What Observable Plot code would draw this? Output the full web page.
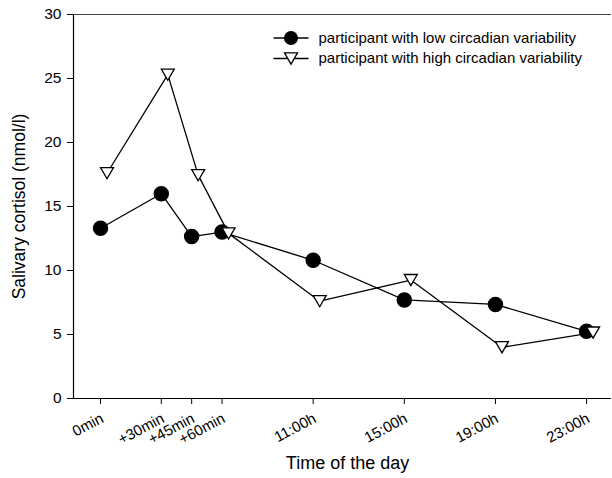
<!DOCTYPE html>
<html>
<head>
<meta charset="utf-8">
<script src="https://cdn.jsdelivr.net/npm/d3@7"></script>
<script src="https://cdn.jsdelivr.net/npm/@observablehq/plot@0.6"></script>
<style>
  html, body { margin: 0; padding: 0; background: #fff; }
  #chart { width: 612px; height: 478px; }
</style>
</head>
<body>
<div id="chart"></div>
<script>
// Sampling times (label) and their position along the x axis (in axis units)
const timeLabels = ["0min", "+30min", "+45min", "+60min", "11:00h", "15:00h", "19:00h", "23:00h"];
const timePos = [0, 2, 3, 4, 7, 10, 13, 16];

// Salivary cortisol (nmol/l)
const lowVariability = [13.3, 16.0, 12.65, 13.0, 10.8, 7.7, 7.35, 5.25];
const highVariability = [17.6, 25.3, 17.45, 12.9, 7.6, 9.25, 4.0, 5.15];

const seriesNames = ["participant with low circadian variability", "participant with high circadian variability"];
const yTicks = [0, 5, 10, 15, 20, 25, 30];

const low = timePos.map((x, i) => ({x, y: lowVariability[i]}));
const high = timePos.map((x, i) => ({x, y: highVariability[i]}));
const xTickTable = timePos.map((x, i) => ({x, label: timeLabels[i]}));

const xDomain = [-0.89, 16.82];

// custom symbols
const triDown = {draw(ctx) { ctx.moveTo(-6.5, -5.6); ctx.lineTo(6.5, -5.6); ctx.lineTo(0, 5.6); ctx.closePath(); }};
const legendLine = {draw(ctx) { ctx.moveTo(-17.5, 0); ctx.lineTo(17.5, 0); }};

const font = "Liberation Sans, Arial, Helvetica, sans-serif";

const chart = Plot.plot({
  width: 612,
  height: 478,
  marginLeft: 73,
  marginRight: 1,
  marginTop: 14,
  marginBottom: 80,
  style: {fontFamily: font, background: "#fff", color: "#000"},
  x: {domain: xDomain, axis: null},
  y: {domain: [0, 30], axis: null},
  marks: [
    // axes lines
    Plot.ruleY([30], {stroke: "#444", strokeWidth: 1}),
    Plot.ruleY([0], {stroke: "#000", strokeWidth: 1.2}),
    Plot.ruleX([xDomain[0]], {stroke: "#000", strokeWidth: 1.2}),
    Plot.axisY({
      ticks: yTicks, tickSize: 6, tickPadding: 6, label: null,
      fontSize: 15.5, stroke: "#000", strokeWidth: 1
    }),
    Plot.axisX({
      ticks: timePos, tickSize: 6, text: null, label: null,
      stroke: "#000", strokeWidth: 1
    }),
    Plot.text(xTickTable, {
      x: "x", text: "label", frameAnchor: "bottom", rotate: -28, textAnchor: "end",
      dx: 4, dy: 23, fontSize: 15, fill: "#000"
    }),
    // axis titles
    Plot.text(["Salivary cortisol (nmol/l)"], {
      frameAnchor: "left", rotate: -90, dx: -54, textAnchor: "middle", text: (d) => d, fontSize: 17.5, fill: "#000"
    }),
    Plot.text(["Time of the day"], {
      frameAnchor: "bottom", dx: 5, dy: 70, text: (d) => d, fontSize: 18, fill: "#000"
    }),
    // series
    Plot.line(low, {x: "x", y: "y", stroke: "#000", strokeWidth: 1.3}),
    Plot.line(high, {x: "x", y: "y", stroke: "#000", strokeWidth: 1.3, dx: 6.5}),
    Plot.dot(low, {x: "x", y: "y", r: 7, fill: "#000", stroke: "#000"}),
    Plot.dot(high, {x: "x", y: "y", symbol: triDown, r: 5, fill: "#fff", stroke: "#000", strokeWidth: 1.3, dx: 6.5}),
    // legend
    Plot.dot([seriesNames[0]], {frameAnchor: "top-left", dx: 217.5, dy: 23.5, symbol: legendLine, stroke: "#000", strokeWidth: 1.3}),
    Plot.dot([seriesNames[0]], {frameAnchor: "top-left", dx: 217.5, dy: 23.5, r: 7, fill: "#000"}),
    Plot.text([seriesNames[0]], {frameAnchor: "top-left", dx: 245, dy: 23.5, text: (d) => d, textAnchor: "start", lineAnchor: "middle", fontSize: 15, fill: "#000"}),
    Plot.dot([seriesNames[1]], {frameAnchor: "top-left", dx: 217.5, dy: 44, symbol: legendLine, stroke: "#000", strokeWidth: 1.3}),
    Plot.dot([seriesNames[1]], {frameAnchor: "top-left", dx: 217.5, dy: 44, symbol: triDown, r: 5, fill: "#fff", stroke: "#000", strokeWidth: 1.3}),
    Plot.text([seriesNames[1]], {frameAnchor: "top-left", dx: 245, dy: 44, text: (d) => d, textAnchor: "start", lineAnchor: "middle", fontSize: 15, fill: "#000"})
  ]
});
document.getElementById("chart").appendChild(chart);
</script>
</body>
</html>
